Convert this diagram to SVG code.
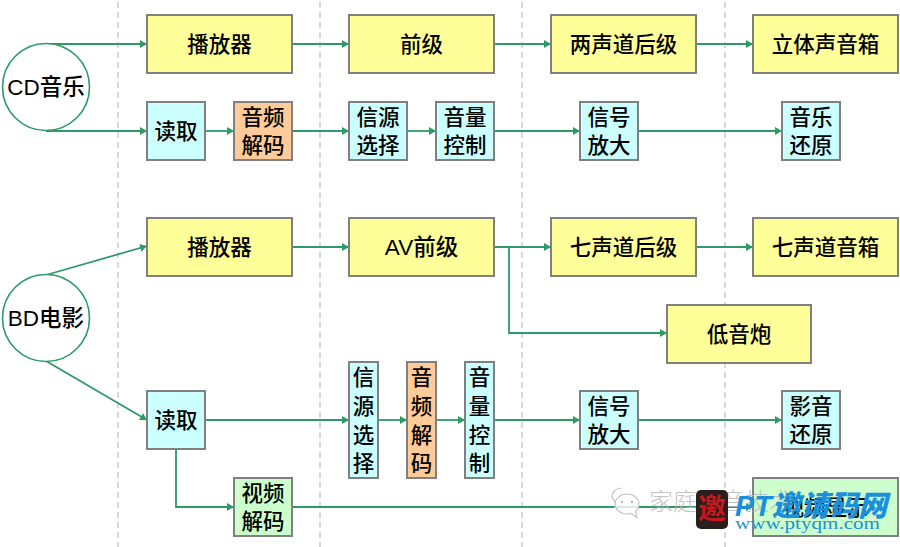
<svg xmlns="http://www.w3.org/2000/svg" width="900" height="547" viewBox="0 0 900 547">
<defs>
<marker id="arrow" markerUnits="userSpaceOnUse" markerWidth="8" markerHeight="8" refX="7" refY="4" orient="auto"><path d="M0,0 L7,4 L0,8 Z" fill="#2e9a66"/></marker>
</defs>
<style>
text{font-family:"Liberation Sans","Noto Sans CJK SC",sans-serif;font-size:21.5px;font-weight:500;fill:#000;text-anchor:middle}
.b{stroke:#808080;stroke-width:2}
.y{fill:#ffff99}.c{fill:#ccffff}.o{fill:#ffcc99}.g{fill:#ccffcc}
.e{fill:#fff;stroke:#2e9a66;stroke-width:1.6}
.d{stroke:#c4c4c4;stroke-width:1.3;stroke-dasharray:6 4;fill:none}
.l{fill:none;stroke:#2e9a66;stroke-width:1.8}
.a{marker-end:url(#arrow)}
.t{font-size:22.5px}
</style>
<rect width="900" height="547" fill="#fff"/>
<g id="guides">
<path class="d" d="M118 2V547M320 2V547M522 2V547M725 2V547"/>
</g>
<g id="connectors">
<path class="l a" d="M46 44H147"/>
<path class="l a" d="M46 131H147"/>
<path class="l a" d="M205 131H234"/>
<path class="l a" d="M292 44H349"/>
<path class="l a" d="M292 131H349"/>
<path class="l a" d="M407 131H436"/>
<path class="l a" d="M494 44H551"/>
<path class="l a" d="M494 131H580"/>
<path class="l a" d="M696 44H753"/>
<path class="l a" d="M638 131H782"/>
<path class="l a" d="M46 275L147 246"/>
<path class="l a" d="M46 361L147 420"/>
<path class="l a" d="M292 247H349"/>
<path class="l a" d="M494 247H551"/>
<path class="l a" d="M509 247V333H667"/>
<path class="l a" d="M696 247H753"/>
<path class="l a" d="M205 420H349"/>
<path class="l a" d="M378 420H407"/>
<path class="l a" d="M436 420H465"/>
<path class="l a" d="M494 420H580"/>
<path class="l a" d="M638 420H782"/>
<path class="l a" d="M176 449V507H234"/>
<path class="l a" d="M292 507H753"/>
</g>
<g id="cd"><circle class="e" cx="46" cy="87" r="43.5"/><text class="t" x="46" y="95">CD音乐</text></g>
<g id="bd"><circle class="e" cx="46" cy="318" r="43.5"/><text class="t" x="46" y="326">BD电影</text></g>
<g id="n1"><rect class="b y" x="147" y="15" width="145" height="58"/><text x="219.500" y="52">播放器</text></g>
<g id="n2"><rect class="b y" x="349" y="15" width="145" height="58"/><text x="421.500" y="52">前级</text></g>
<g id="n3"><rect class="b y" x="551" y="15" width="145" height="58"/><text x="623.500" y="52">两声道后级</text></g>
<g id="n4"><rect class="b y" x="753" y="15" width="145" height="58"/><text x="825.500" y="52">立体声音箱</text></g>
<g id="n5"><rect class="b c" x="147" y="102" width="58" height="58"/><text x="176" y="139">读取</text></g>
<g id="n6"><rect class="b o" x="234" y="102" width="58" height="58"/><text x="263" y="125">音频</text><text x="263" y="153">解码</text></g>
<g id="n7"><rect class="b c" x="349" y="102" width="58" height="58"/><text x="378" y="125">信源</text><text x="378" y="153">选择</text></g>
<g id="n8"><rect class="b c" x="436" y="102" width="58" height="58"/><text x="465" y="125">音量</text><text x="465" y="153">控制</text></g>
<g id="n9"><rect class="b c" x="580" y="102" width="58" height="58"/><text x="609" y="125">信号</text><text x="609" y="153">放大</text></g>
<g id="n10"><rect class="b c" x="782" y="102" width="58" height="58"/><text x="811" y="125">音乐</text><text x="811" y="153">还原</text></g>
<g id="n11"><rect class="b y" x="147" y="218" width="145" height="58"/><text x="219.500" y="255">播放器</text></g>
<g id="n12"><rect class="b y" x="349" y="218" width="145" height="58"/><text class="t" x="421.500" y="255">AV前级</text></g>
<g id="n13"><rect class="b y" x="551" y="218" width="145" height="58"/><text x="623.500" y="255">七声道后级</text></g>
<g id="n14"><rect class="b y" x="753" y="218" width="145" height="58"/><text x="825.500" y="255">七声道音箱</text></g>
<g id="n15"><rect class="b y" x="667" y="305" width="144" height="58"/><text x="739" y="342">低音炮</text></g>
<g id="n16"><rect class="b c" x="147" y="391" width="58" height="58"/><text x="176" y="428">读取</text></g>
<g id="n17"><rect class="b c" x="349" y="362" width="29" height="116"/><text x="363.500" y="385">信</text><text x="363.500" y="414">源</text><text x="363.500" y="443">选</text><text x="363.500" y="471">择</text></g>
<g id="n18"><rect class="b o" x="407" y="362" width="29" height="116"/><text x="421.500" y="385">音</text><text x="421.500" y="414">频</text><text x="421.500" y="443">解</text><text x="421.500" y="471">码</text></g>
<g id="n19"><rect class="b c" x="465" y="362" width="29" height="116"/><text x="479.500" y="385">音</text><text x="479.500" y="414">量</text><text x="479.500" y="443">控</text><text x="479.500" y="471">制</text></g>
<g id="n20"><rect class="b c" x="580" y="391" width="58" height="58"/><text x="609" y="414">信号</text><text x="609" y="442">放大</text></g>
<g id="n21"><rect class="b c" x="782" y="391" width="58" height="58"/><text x="811" y="414">影音</text><text x="811" y="442">还原</text></g>
<g id="n22"><rect class="b g" x="234" y="478" width="58" height="58"/><text x="263" y="501">视频</text><text x="263" y="529">解码</text></g>
<g id="n23"><rect class="b g" x="753" y="478" width="145" height="58"/><text x="825.500" y="515">视频显示</text></g>
<g id="watermark">
<path d="M622 488c-6 0-10 4-10 8 0 3 2 5 4 7l-1 4 4-2c1 0 2 .5 3 .5" fill="#fff" fill-opacity=".8" stroke="#c4c4c4" stroke-width="1.2"/>
<path d="M627 494c-7 0-12 5-12 10s5 10 12 10c2 0 3 0 4-.5l6 4-1.500-6c2-2 3.500-4.500 3.500-7.500 0-5-5-10-12-10z" fill="#fff" fill-opacity=".8" stroke="#c4c4c4" stroke-width="1.200"/>
<circle cx="622" cy="502" r="1.200" fill="#b5b5b5"/><circle cx="632" cy="502" r="1.200" fill="#b5b5b5"/>
<text x="649" y="510" style="text-anchor:start;font-size:24px;font-weight:300;fill:#b8b8b8;fill-opacity:.85">家庭影音技术</text>
<rect x="696" y="490" width="32" height="39" rx="5" fill="#2a1f1c"/>
<text x="712" y="519" style="font-size:28px;font-weight:700;fill:#c8161d">邀</text>
<text x="735" y="516" style="text-anchor:start;font-size:29px;font-weight:900;font-style:italic;fill:#1b8fdc" textLength="152" lengthAdjust="spacingAndGlyphs">PT邀请码网</text>
<text x="735" y="529" style="text-anchor:start;font-family:'Liberation Serif',serif;font-size:16px;font-weight:400;fill:#2090d0" textLength="145" lengthAdjust="spacingAndGlyphs">www.ptyqm.com</text>
</g>
</svg>
